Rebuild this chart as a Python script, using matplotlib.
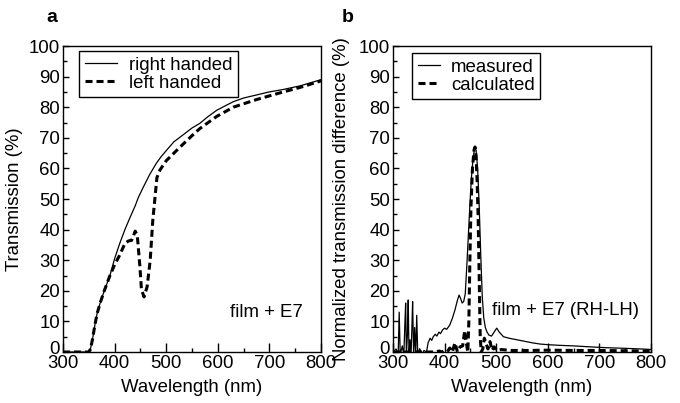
import matplotlib
matplotlib.use('Agg')
import matplotlib.pyplot as plt
from matplotlib.ticker import MultipleLocator
from matplotlib.transforms import ScaledTranslation

plt.rcParams['font.family'] = ['Liberation Sans', 'DejaVu Sans']
plt.rcParams['font.size'] = 13.4

# panel a: transmission spectra
rh_wl = [300, 320, 340, 350, 353, 357, 362, 366, 372, 380, 391, 400, 410, 420, 430, 440,
         446, 456, 468, 481, 490, 501, 515, 533, 550, 565, 580, 598, 615, 630, 650, 675,
         700, 727, 760, 780, 800]
rh_T = [0, 0, 0, 0, 0.8, 4, 9, 12.5, 16, 20, 25, 30.5, 35.5, 40, 44, 47.8,
        50.5, 54, 58, 61.7, 63.8, 66, 68.7, 71, 73.2, 74.7, 76.8, 79, 80.5, 81.8, 83, 84,
        85, 85.8, 87, 88, 89]

lh_wl = [300, 320, 340, 350, 353, 357, 362, 366, 372, 380, 391, 400, 410, 420, 427, 433,
         440, 444, 449, 452, 457, 463, 469, 474, 478, 482, 488, 500, 527, 550, 565, 598,
         630, 675, 727, 760, 800]
lh_T = [0, 0, 0, 0, 0.8, 4, 9, 12.5, 16, 20, 25, 28.5, 31.7, 35.5, 36.3, 36.5,
        39.5, 38, 28, 20.5, 18, 21.3, 30, 43, 50, 57, 59.5, 62.5, 67, 70.7, 73, 77,
        80, 82.5, 85, 86.5, 88.6]

# panel b: normalized transmission difference
meas_wl = [300, 306, 310, 312, 314, 318, 321, 323, 324.5, 326, 328, 329.5, 331, 333, 335,
           337, 338, 340, 342, 344, 346, 348, 352, 356, 360, 365, 368, 372, 375, 378, 382,
           385, 389, 392, 396, 400, 404, 410, 415, 420, 425, 428, 431, 434, 437, 440, 443,
           446, 449, 452, 455, 458, 461, 464, 467, 470, 473, 476, 479, 482, 486, 491, 496,
           501, 506, 514, 525, 540, 552, 570, 585, 600, 620, 649, 680, 714, 750, 792, 800]
meas = [0, 1, -1, 13, -1, 2, -1, 9, 16, -1, 6, 17, -1, 4, -1,
        10, 16.5, -1, 8, -1, 12, -1, 1, -1, 0.5, 0, 3, 4.5, 3.8, 5, 5.8,
        5.2, 6.5, 6, 7.2, 7.8, 7.4, 8.8, 11, 13.7, 17, 18.6, 17.5, 16, 16.5, 19, 28,
        38, 48, 57, 63, 66.5, 66, 60, 48, 32, 18, 11, 8, 6.6, 5.5, 5.2, 6.5,
        7.8, 6.5, 5, 4.5, 4, 3.6, 3, 2.6, 2.4, 2.2, 2, 1.7, 1.4, 1.2, 0.9, 0.8]

calc_wl = [300, 320, 340, 360, 380, 390, 395, 400, 405, 410, 415, 420, 425, 430, 435, 439,
           443, 445, 447, 449, 451, 454, 457, 459, 461, 463, 465, 467, 469, 471, 474, 477,
           480, 484, 488, 492, 496, 501, 510, 530, 560, 600, 650, 700, 750, 800]
calc = [0, 0, 0, 0, 0, 0.3, 0, 0.5, 0, 1.3, 0, 3, 0, 1.7, 2, 7,
        2, 0, 10, 30, 47, 60, 66, 67, 64, 56, 44, 25, 5, 0, 1, 4.5,
        3, 1, 3.4, 0.5, 1.7, 0.5, 0.8, 0.5, 0.5, 0.6, 0.5, 0.5, 0.4, 0.3]

fig = plt.figure(figsize=(6.8, 4.03), dpi=100)
ax_a = fig.add_axes([63 / 680, 51 / 403, 258 / 680, 306 / 403])
ax_b = fig.add_axes([393 / 680, 51 / 403, 258 / 680, 306 / 403])

dash = (0, (2.3, 1.3))

ax_a.plot(rh_wl, rh_T, color='black', lw=0.9, label='right handed')
ax_a.plot(lh_wl, lh_T, color='black', lw=2.2, linestyle=dash, label='left handed')
ax_b.plot(meas_wl, meas, color='black', lw=0.9, label='measured')
ax_b.plot(calc_wl, calc, color='black', lw=2.2, linestyle=dash, label='calculated')

for ax in (ax_a, ax_b):
    ax.set_xlim(300, 800)
    ax.set_ylim(0, 100)
    ax.xaxis.set_major_locator(MultipleLocator(100))
    ax.xaxis.set_minor_locator(MultipleLocator(50))
    ax.yaxis.set_major_locator(MultipleLocator(10))
    ax.yaxis.set_minor_locator(MultipleLocator(5))
    ax.tick_params(which='both', direction='in', top=False, right=False, width=1,
                   labelsize=13.4)
    ax.tick_params(axis='x', which='major', length=6.5, pad=2)
    ax.tick_params(axis='x', which='minor', length=3)
    ax.tick_params(axis='y', which='major', length=4.5, pad=2)
    ax.tick_params(axis='y', which='minor', length=3)
    for s in ax.spines.values():
        s.set_linewidth(1)
    ax.set_xlabel('Wavelength (nm)', labelpad=5)

ax_a.set_ylabel('Transmission (%)')
ax_a.yaxis.set_label_coords(-0.155, 0.5)
ax_b.set_ylabel('Normalized transmission difference (%)')
ax_b.yaxis.set_label_coords(-0.165, 0.5)

leg_a = ax_a.legend(loc='upper left', bbox_to_anchor=(16 / 258, 1 - 5 / 306),
                    borderaxespad=0, fancybox=False, edgecolor='black', framealpha=1,
                    handlelength=1.75, handletextpad=0.65, labelspacing=0.05,
                    borderpad=0.3, fontsize=13.4)
leg_a.get_frame().set_linewidth(1)
leg_b = ax_b.legend(loc='upper left', bbox_to_anchor=(19 / 258, 1 - 7 / 306),
                    borderaxespad=0, fancybox=False, edgecolor='black', framealpha=1,
                    handlelength=1.2, handletextpad=0.6, labelspacing=0.05,
                    borderpad=0.3, fontsize=13.4)
leg_b.get_frame().set_linewidth(1)

ax_a.text(0.93, 0.13, 'film + E7', transform=ax_a.transAxes, ha='right', va='center')
ax_b.text(0.955, 0.137, 'film + E7 (RH-LH)', transform=ax_b.transAxes, ha='right',
          va='center')

fig.text(52 / 680, 1 - 18 / 403, 'a', fontsize=14, fontweight='heavy', ha='center',
         va='center')
fig.text(348 / 680, 1 - 18 / 403, 'b', fontsize=14, fontweight='heavy', ha='center',
         va='center')

# the "0" label sits a little above its tick, clear of the "300" below it
fig.canvas.draw()
for ax in (ax_a, ax_b):
    for tick in ax.yaxis.get_major_ticks():
        if abs(tick.get_loc()) < 1e-9:
            lab = tick.label1
            lab.set_transform(lab.get_transform()
                              + ScaledTranslation(0, 5 / 100, fig.dpi_scale_trans))

fig.savefig('out.png', dpi=100)
